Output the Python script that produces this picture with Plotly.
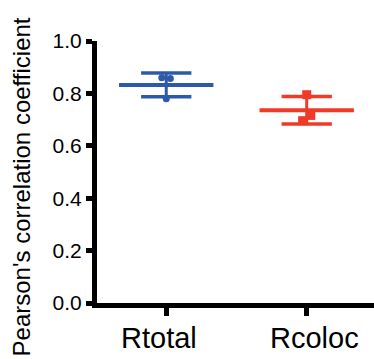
import numpy as np
import plotly.graph_objects as go

categories = ["Rtotal", "Rcoloc"]
rtotal_values = [0.860, 0.857, 0.780]
rcoloc_values = [0.795, 0.716, 0.696]
rtotal_jitter = [-0.032, 0.029, 0.0]
rcoloc_jitter = [0.0, 0.029, -0.029]
y_ticks = [0.0, 0.2, 0.4, 0.6, 0.8, 1.0]
y_tick_labels = ["0.0", "0.2", "0.4", "0.6", "0.8", "1.0"]
y_title = "Pearson's correlation coefficient"

colors = ["#2c5aa8", "#ee3a26"]
symbols = ["circle", "square"]
sizes = [7, 9]
series = [rtotal_values, rcoloc_values]
jitters = [rtotal_jitter, rcoloc_jitter]

MEAN_HALF = 0.336
CAP_HALF = 0.179

fig = go.Figure()
for i, (vals, jit) in enumerate(zip(series, jitters)):
    v = np.array(vals)
    m = v.mean()
    sd = v.std(ddof=1)
    c = colors[i]
    fig.add_trace(go.Scatter(x=[i, i], y=[m - sd, m + sd], mode="lines",
                             line=dict(color=c, width=3), hoverinfo="skip", showlegend=False))
    for yy in (m - sd, m + sd):
        fig.add_trace(go.Scatter(x=[i - CAP_HALF, i + CAP_HALF], y=[yy, yy], mode="lines",
                                 line=dict(color=c, width=3.5), hoverinfo="skip", showlegend=False))
    fig.add_trace(go.Scatter(x=[i - MEAN_HALF, i + MEAN_HALF], y=[m, m], mode="lines",
                             line=dict(color=c, width=4), hoverinfo="skip", showlegend=False))
    fig.add_trace(go.Scatter(x=[i + j for j in jit], y=vals, mode="markers",
                             marker=dict(color=c, symbol=symbols[i], size=sizes[i], line=dict(width=0)),
                             showlegend=False))

font = "Liberation Sans, Arial, sans-serif"
label_offsets = [-0.054, 0.057]
for i, cat in enumerate(categories):
    fig.add_annotation(x=i + label_offsets[i], y=-0.1317, xref="x", yref="paper",
                       text=cat, showarrow=False, xanchor="center", yanchor="middle",
                       font=dict(family=font, size=29, color="black"))

fig.add_annotation(x=-0.2708, y=0.4447, xref="paper", yref="paper", text=y_title,
                   textangle=-90, showarrow=False, xanchor="center", yanchor="middle",
                   font=dict(family=font, size=24, color="black"))

fig.update_layout(
    width=374, height=359,
    margin=dict(l=97, r=0, t=41, b=56),
    plot_bgcolor="white", paper_bgcolor="white",
    font=dict(family=font, color="black"),
    xaxis=dict(range=[-0.493, 1.479], showline=True, linewidth=5, linecolor="black",
               ticks="outside", ticklen=8, tickwidth=5, tickcolor="black",
               tickvals=[0, 1], showticklabels=False, showgrid=False, zeroline=False),
    yaxis=dict(range=[0, 1.0], showline=True, linewidth=5, linecolor="black",
               ticks="outside", ticklen=6, tickwidth=5, tickcolor="black",
               tickvals=y_ticks, ticktext=y_tick_labels, tickfont=dict(size=21, family=font),
               showgrid=False, zeroline=False),
)

fig.write_html("out.html")
